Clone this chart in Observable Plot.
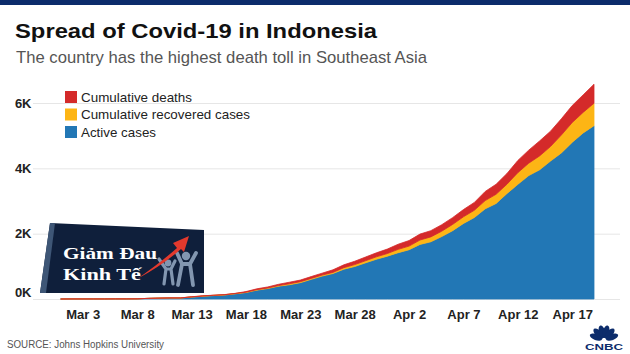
<!DOCTYPE html>
<html>
<head>
<meta charset="utf-8">
<script src="https://cdn.jsdelivr.net/npm/d3@7"></script>
<script src="https://cdn.jsdelivr.net/npm/@observablehq/plot@0.6"></script>
<style>
  html, body { margin: 0; padding: 0; background: #fff; }
  #wrap { position: relative; width: 630px; height: 354px; overflow: hidden; background: #fff;
          font-family: "Liberation Sans", Arial, sans-serif; }
  #chart { position: absolute; left: 0; top: 0; }
  #overlay { position: absolute; left: 0; top: 0; pointer-events: none; }
</style>
</head>
<body>
<div id="wrap">
  <div id="chart"></div>
  <svg id="overlay" width="630" height="354" xmlns="http://www.w3.org/2000/svg"></svg>
</div>
<script>
// ---------- data (Indonesia, daily, Mar 1 – Apr 19, 2020) ----------
const startDate = "2020-03-01";
const endDate = "2020-04-19";
const confirmed = [0, 2, 2, 2, 2, 4, 4, 6, 19, 27,
  34, 34, 69, 96, 117, 134, 172, 227, 311, 369,
  450, 514, 579, 686, 790, 893, 1046, 1155, 1285, 1414,
  1528, 1677, 1790, 1986, 2092, 2273, 2491, 2738, 2956, 3293,
  3512, 3842, 4241, 4557, 4839, 5136, 5516, 5923, 6248, 6575];
const deaths = [0, 0, 0, 0, 0, 0, 0, 0, 0, 0,
  1, 1, 4, 5, 5, 5, 5, 19, 25, 32,
  38, 48, 49, 55, 58, 78, 87, 102, 114, 122,
  136, 157, 170, 181, 191, 198, 209, 221, 240, 280,
  306, 327, 373, 399, 459, 469, 496, 520, 535, 582];
const recovered = [0, 0, 0, 0, 0, 0, 0, 0, 0, 0,
  0, 2, 5, 8, 8, 8, 9, 11, 15, 17,
  20, 29, 30, 30, 31, 35, 46, 59, 64, 75,
  81, 103, 112, 134, 150, 164, 192, 204, 222, 252,
  282, 286, 359, 380, 426, 446, 548, 607, 631, 686];

const seriesNames = ["Cumulative deaths", "Cumulative recovered cases", "Active cases"];
const seriesColors = ["#d42a2a", "#fdb515", "#2277b5"];
const stackOrder = ["Active cases", "Cumulative recovered cases", "Cumulative deaths"];

const yTicks = [0, 2000, 4000, 6000];
const xTickLabels = ["Mar 3", "Mar 8", "Mar 13", "Mar 18", "Mar 23", "Mar 28", "Apr 2", "Apr 7", "Apr 12", "Apr 17"];

const titleText = "Spread of Covid-19 in Indonesia";
const subtitleText = "The country has the highest death toll in Southeast Asia";
const sourceText = "SOURCE: Johns Hopkins University";

// ---------- build table ----------
const dates = d3.utcDay.range(new Date(startDate), d3.utcDay.offset(new Date(endDate), 1));
const rows = [];
dates.forEach((date, i) => {
  rows.push({date, series: "Active cases", value: confirmed[i] - deaths[i] - recovered[i]});
  rows.push({date, series: "Cumulative recovered cases", value: recovered[i]});
  rows.push({date, series: "Cumulative deaths", value: deaths[i]});
});
const parseTick = d3.utcParse("%b %d %Y");
const xTickDates = xTickLabels.map(s => parseTick(s + " 2020"));

const axisFont = {fontSize: 13, fontWeight: "bold", fill: "#222"};

const chart = Plot.plot({
  width: 630,
  height: 354,
  marginTop: 103,
  marginBottom: 55,
  marginLeft: 61,
  marginRight: 36,
  style: {background: "transparent", fontFamily: '"Liberation Sans", Arial, sans-serif', overflow: "visible"},
  x: {type: "utc", domain: [dates[0], dates[dates.length - 1]], label: null},
  y: {domain: [0, 6000], label: null},
  color: {domain: seriesNames, range: seriesColors},
  marks: [
    Plot.ruleY(yTicks, {stroke: "#e6e6e6", strokeWidth: 1, insetLeft: -28, insetRight: -26}),
    Plot.areaY(rows, {x: "date", y: "value", fill: "series", stroke: "series", strokeWidth: 0.8, order: stackOrder}),
    Plot.axisX(xTickDates, {tickSize: 0, tickPadding: 10, tickFormat: (d, i) => xTickLabels[i], ...axisFont}),
    Plot.axisY(yTicks.filter(v => v > 0), {tickSize: 0, tickPadding: 30, tickFormat: d => d / 1000 + "K", ...axisFont}),
    Plot.axisY(yTicks.filter(v => v === 0), {tickSize: 0, tickPadding: 30, dy: -7, tickFormat: d => d / 1000 + "K", ...axisFont})
  ]
});
document.getElementById("chart").appendChild(chart);

// ---------- overlay: titles, legend, source, logos ----------
const ov = d3.select("#overlay");
ov.append("rect").attr("x", 0).attr("y", 0).attr("width", 630).attr("height", 5).attr("fill", "#0c2c6b");
ov.append("text").attr("x", 15).attr("y", 38).attr("font-size", 21).attr("font-weight", "bold")
  .attr("fill", "#111").attr("textLength", 362).attr("lengthAdjust", "spacingAndGlyphs").text(titleText);
ov.append("text").attr("x", 16).attr("y", 62.5).attr("font-size", 17)
  .attr("fill", "#555").attr("textLength", 411).attr("lengthAdjust", "spacingAndGlyphs").text(subtitleText);

const legendWidths = [111, 169, 75];
seriesNames.forEach((name, i) => {
  const y0 = 91 + i * 17.5;
  ov.append("rect").attr("x", 65).attr("y", y0).attr("width", 12).attr("height", 12).attr("fill", seriesColors[i]);
  ov.append("text").attr("x", 81).attr("y", y0 + 10.5).attr("font-size", 13.5).attr("fill", "#222")
    .attr("textLength", legendWidths[i]).attr("lengthAdjust", "spacingAndGlyphs").text(name);
});

ov.append("text").attr("x", 7).attr("y", 347.5).attr("font-size", 10).attr("fill", "#555")
  .attr("textLength", 157).attr("lengthAdjust", "spacingAndGlyphs").text(sourceText);

// watermark badge
const wm = ov.append("g");
wm.append("polygon").attr("points", "50,223 204,230 204,293 40,293").attr("fill", "#0f1f3b");
wm.append("polygon").attr("points", "50,223 55,223.3 46,293 40,293").attr("fill", "#3e5676");
const fig = wm.append("g").attr("fill", "#8296b0").attr("stroke", "#8296b0").attr("stroke-linecap", "round");
fig.append("circle").attr("cx", 168).attr("cy", 263).attr("r", 3.4).attr("stroke", "none");
fig.append("path").attr("d", "M159,259 L166,269 L164,284 M171,269 L175,261 M166,269 L171,269 L173,284").attr("stroke-width", 3.2).attr("fill", "none");
fig.append("circle").attr("cx", 186).attr("cy", 256).attr("r", 4.2).attr("stroke", "none");
fig.append("path").attr("d", "M177,253 L182,264 L178,285 M190,264 L196,253 M182,264 L190,264 L193,285").attr("stroke-width", 3.8).attr("fill", "none");
wm.append("path").attr("d", "M137,279 Q160,263 177,248 L173,243 L189,236 L184,252 L181,249 Q163,265 137,279 Z").attr("fill", "#e2392d");
wm.append("text").attr("x", 63).attr("y", 259).attr("font-family", '"Liberation Serif", "DejaVu Serif", serif')
  .attr("font-size", 17.5).attr("font-weight", "bold").attr("fill", "#fff")
  .attr("textLength", 94).attr("lengthAdjust", "spacingAndGlyphs").text("Giảm Đau");
wm.append("text").attr("x", 63).attr("y", 280).attr("font-family", '"Liberation Serif", "DejaVu Serif", serif')
  .attr("font-size", 17.5).attr("font-weight", "bold").attr("fill", "#fff")
  .attr("textLength", 78).attr("lengthAdjust", "spacingAndGlyphs").text("Kinh Tế");

// CNBC logo
const logo = ov.append("g").attr("fill", "#0c2c6b");
[-70, -42, -14, 14, 42, 70].forEach(a => {
  logo.append("ellipse").attr("cx", 0).attr("cy", -8.5).attr("rx", 3.1).attr("ry", 6.5)
    .attr("transform", `translate(604,340) rotate(${a})`);
});
logo.append("text").attr("x", 585).attr("y", 349.5).attr("font-size", 9).attr("font-weight", "bold")
  .attr("textLength", 38).attr("lengthAdjust", "spacingAndGlyphs").text("CNBC");
</script>
</body>
</html>
